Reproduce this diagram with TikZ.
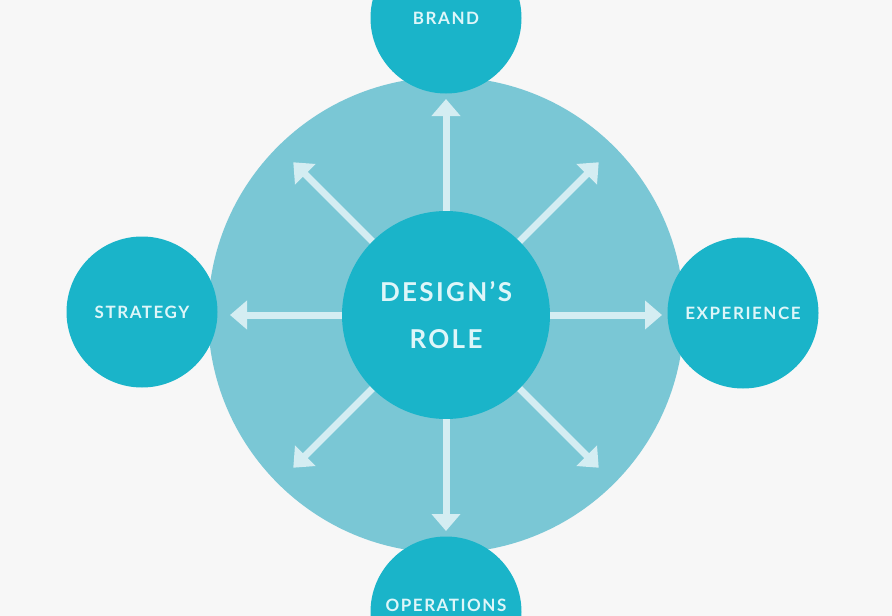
\documentclass[tikz,border=0pt]{standalone}
\usepackage{fontspec}
\usepackage{tikz}
\usetikzlibrary{shapes, arrows.meta, positioning}
\newfontfamily\lblfont[LetterSpace=9]{Lato}
\definecolor{paper}{RGB}{247,247,247}
\definecolor{ringblue}{RGB}{122,199,213}
\definecolor{dotblue}{RGB}{26,180,201}
\definecolor{spokeblue}{RGB}{212,237,242}
\definecolor{inkblue}{RGB}{222,246,249}
\tikzstyle{ring} = [circle, fill=ringblue, inner sep = 0pt, minimum size = 476pt]
\tikzstyle{hub} = [circle, fill=dotblue, inner sep = 0pt, minimum size = 208pt, align=center, text=inkblue, font={\lblfont\bfseries\fontsize{26}{47}\selectfont}]
\tikzstyle{petal} = [circle, fill=dotblue, inner sep = 0pt, minimum size = 151pt, text=inkblue, font={\lblfont\bfseries\fontsize{17}{20}\selectfont}]
\tikzstyle{spoke} = [draw=spokeblue, line width = 7pt, -{Triangle[width=28pt, length=17pt]}]

\begin{document}
\begin{tikzpicture}[x=1pt, y=-1pt]
				\fill [paper] (0,0) rectangle (892,616);
				\useasboundingbox (0,0) rectangle (892,616);
				\node [ring] (ring) at (446, 315) {};

				\node [hub] (role) at (446, 315) {DESIGN’S\\ROLE};
				\foreach \a in {0,45,...,315}
					\coordinate (tip\a) at ([shift={(\a:216)}]role.center);
				\foreach \a in {0,45,...,315}
					\path [spoke] (role) -- (tip\a);

				\node [petal] (brand) at (446, 18) {BRAND};
				\node [petal] (strategy) at (142, 312) {STRATEGY};
				\node [petal] (experience) at (743, 313) {EXPERIENCE};
				\node [petal] (operations) at (446, 612) {\raisebox{14pt}{OPERATIONS}};
			\end{tikzpicture}
\end{document}
